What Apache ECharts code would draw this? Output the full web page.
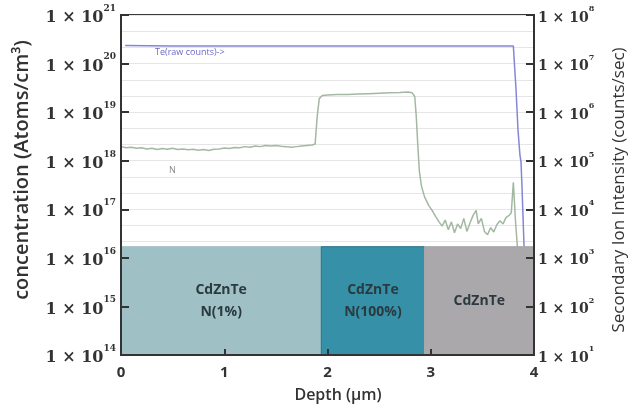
<!DOCTYPE html>
<html>
<head>
<meta charset="utf-8">
<script src="https://cdn.jsdelivr.net/npm/echarts@6/dist/echarts.min.js"></script>
<style>
  html, body { margin: 0; padding: 0; background: #fff; }
  #main { width: 629px; height: 408px; }
</style>
</head>
<body>
<div id="main"></div>
<script>
// N 浓度 (左轴, Atoms/cm3)
var depthN = [0.00, 0.05, 0.10, 0.15, 0.20, 0.25, 0.30, 0.35, 0.40, 0.45, 0.50, 0.55, 0.60, 0.65, 0.70,
    0.75, 0.80, 0.85, 0.90, 0.95, 1.00, 1.05, 1.10, 1.15, 1.20, 1.25, 1.30, 1.35, 1.40, 1.45, 1.50,
    1.55, 1.60, 1.65, 1.70, 1.75, 1.80, 1.85, 1.88, 1.90, 1.92, 1.95, 2.00, 2.10, 2.20, 2.30, 2.40,
    2.50, 2.60, 2.70, 2.78, 2.82, 2.845, 2.86, 2.875, 2.89, 2.91, 2.94, 2.98, 3.02, 3.05,
    3.08, 3.11, 3.14, 3.17, 3.20, 3.23, 3.26, 3.29, 3.32, 3.35, 3.38, 3.41, 3.44, 3.46, 3.49,
    3.52, 3.55, 3.58, 3.61, 3.64, 3.67, 3.70, 3.73, 3.76, 3.78, 3.80, 3.82, 3.84]
var nConc = [1.95e18, 1.85e18, 1.9e18, 1.8e18, 1.85e18, 1.75e18, 1.8e18, 1.7e18, 1.78e18, 1.72e18, 1.8e18,
    1.7e18, 1.75e18, 1.68e18, 1.72e18, 1.65e18, 1.7e18, 1.62e18, 1.72e18, 1.75e18, 1.82e18, 1.78e18,
    1.88e18, 1.85e18, 1.95e18, 1.9e18, 2.0e18, 1.95e18, 2.05e18, 2.0e18, 2.05e18, 1.98e18, 1.95e18,
    1.9e18, 1.95e18, 2.0e18, 2.05e18, 2.1e18, 2.2e18, 8e18, 1.9e19, 2.2e19, 2.25e19, 2.3e19, 2.3e19,
    2.35e19, 2.4e19, 2.45e19, 2.5e19, 2.55e19, 2.6e19, 2.5e19, 2.1e19, 8e18, 2e18, 6e17, 3e17, 1.8e17,
    1.2e17, 9e16, 7e16,
    5.5e16, 4.5e16, 6.0e16, 3.8e16, 5.5e16, 3.3e16, 5.0e16, 4.0e16, 6.5e16, 3.5e16, 5.2e16, 7.5e16,
    9.5e16, 5.0e16, 6.5e16, 3.5e16, 3.0e16, 4.2e16, 3.4e16, 4.8e16, 5.8e16, 5.0e16, 6.8e16, 7.5e16,
    8.5e16, 3.6e17, 6e16, 1.6e16]

// Te 计数 (右轴, counts/sec)
var depthTe = [0.04, 0.50, 1.00, 1.50, 2.00, 2.50, 3.00, 3.50, 3.80, 3.826, 3.845, 3.864, 3.874, 3.883, 3.893, 3.903, 3.92]
var teCounts = [2.35e7, 2.3e7, 2.3e7, 2.3e7, 2.3e7, 2.3e7, 2.3e7, 2.3e7, 2.3e7, 2.9e6, 4.3e5, 1.3e5, 9.5e4, 3.2e4, 7.6e3, 1.9e3, 5e2]

// 底部层结构
var layerNames = ['CdZnTe\nN(1%)', 'CdZnTe\nN(100%)', 'CdZnTe']
var layerStart = [0, 1.94, 2.94]
var layerEnd = [1.94, 2.94, 4]
var layerColors = ['#9fc1c5', '#3590a8', '#aaa8aa']
var layerBorders = ['#9fc1c5', '#2a7286', '#aaa8aa']
var layerTop = 1.7e16

var xTicks = [0, 1, 2, 3, 4]

function zip(xs, ys) {
    var out = []
    for (var i = 0; i < xs.length; i++) out.push([xs[i], ys[i]])
    return out
}

function expLabel(v) {
    var e = Math.round(Math.log(v) / Math.LN10)
    return '{b|1 × 10}{s|' + e + '}'
}

var areaData = []
for (var i = 0; i < layerNames.length; i++) {
    areaData.push([
        { xAxis: layerStart[i], yAxis: 1e14, name: layerNames[i], itemStyle: { color: layerColors[i], borderColor: layerBorders[i], borderWidth: 1 } },
        { xAxis: layerEnd[i], yAxis: layerTop }
    ])
}

var labelRich = function (size, supSize) {
    return {
        b: { fontFamily: 'DejaVu Serif', fontWeight: 'bold', fontSize: size, color: '#333', lineHeight: size + 6, verticalAlign: 'bottom' },
        s: { fontFamily: 'DejaVu Serif', fontWeight: 'bold', fontSize: supSize, color: '#333', lineHeight: size + 6, verticalAlign: 'top' }
    }
}

var myChart = echarts.init(document.getElementById('main'))
var option = {
    animation: false,
    backgroundColor: '#fff',
    grid: { left: 121, right: 95, top: 15, bottom: 53, show: true, borderColor: '#3a3a3a', borderWidth: 2, backgroundColor: 'transparent' },
    xAxis: {
        type: 'value', min: 0, max: 4, interval: 1, z: 20,
        axisLine: { lineStyle: { color: '#333', width: 2 } },
        axisTick: { inside: true, length: 6, lineStyle: { color: '#333', width: 2 } },
        axisLabel: {
            fontFamily: 'Open Sans', fontWeight: 'bold', fontSize: 15, color: '#333', margin: 10,
            formatter: function (v) { return xTicks.indexOf(v) >= 0 ? String(v) : '' }
        },
        splitLine: { show: false }
    },
    yAxis: [
        {
            type: 'log', logBase: 10, min: 1e14, max: 1e21, splitNumber: 7, position: 'left', z: 20,
            axisLine: { show: true, lineStyle: { color: '#333', width: 2 } },
            axisTick: { show: true, inside: true, length: 8, lineStyle: { color: '#333', width: 2 } },
            axisLabel: { margin: 5, formatter: expLabel, rich: labelRich(16, 9) },
            splitLine: { show: false }
        },
        {
            type: 'log', logBase: 10, min: 1e1, max: 1e8, splitNumber: 7, position: 'right', z: 20,
            axisLine: { show: true, lineStyle: { color: '#333', width: 2 } },
            axisTick: { show: true, inside: true, length: 8, lineStyle: { color: '#333', width: 2 } },
            axisLabel: { margin: 4, formatter: expLabel, rich: labelRich(14, 8) },
            splitLine: { show: false }
        },
        {
            type: 'value', min: 0, max: 21, interval: 1, position: 'left',
            axisLine: { show: false }, axisTick: { show: false }, axisLabel: { show: false },
            splitLine: { show: true, lineStyle: { color: '#e6e6e6', width: 1 } }
        }
    ],
    graphic: [
        {
            type: 'text', x: 22, y: 170, rotation: Math.PI / 2,
            style: { text: 'concentration (Atoms/cm³)', fontFamily: 'Open Sans', fontWeight: 600, fontSize: 20, fill: '#333', align: 'center', verticalAlign: 'middle' }
        },
        {
            type: 'text', x: 619, y: 190, rotation: Math.PI / 2,
            style: { text: 'Secondary Ion Intensity (counts/sec)', fontFamily: 'Open Sans', fontSize: 17, fill: '#333', align: 'center', verticalAlign: 'middle' }
        },
        {
            type: 'text', x: 338, y: 395,
            style: { text: 'Depth (μm)', fontFamily: 'Open Sans', fontWeight: 600, fontSize: 16, fill: '#333', align: 'center', verticalAlign: 'middle' }
        },
        {
            type: 'text', x: 155, y: 52, z: 30,
            style: { text: 'Te(raw counts)->', fontFamily: 'Open Sans', fontSize: 9, fill: '#6a6ac8', verticalAlign: 'middle' }
        },
        {
            type: 'text', x: 169, y: 170, z: 30,
            style: { text: 'N', fontFamily: 'Open Sans', fontSize: 9, fill: '#888', verticalAlign: 'middle' }
        }
    ],
    series: [
        {
            name: 'N', type: 'line', xAxisIndex: 0, yAxisIndex: 0, z: 3,
            showSymbol: false, symbol: 'none',
            lineStyle: { color: '#a3b8a3', width: 1.5 },
            data: zip(depthN, nConc)
        },
        {
            name: 'Te', type: 'line', xAxisIndex: 0, yAxisIndex: 1, z: 3,
            showSymbol: false, symbol: 'none',
            lineStyle: { color: '#8585d8', width: 1.5 },
            data: zip(depthTe, teCounts)
        },
        {
            name: 'layers', type: 'line', xAxisIndex: 0, yAxisIndex: 0, data: [],
            markArea: {
                silent: true, z: 10,
                label: {
                    show: true, position: 'inside', fontFamily: 'Open Sans', fontWeight: 'bold',
                    fontSize: 14, lineHeight: 22, color: '#2b3a3f'
                },
                data: areaData
            }
        }
    ]
}
myChart.setOption(option)
</script>
</body>
</html>
